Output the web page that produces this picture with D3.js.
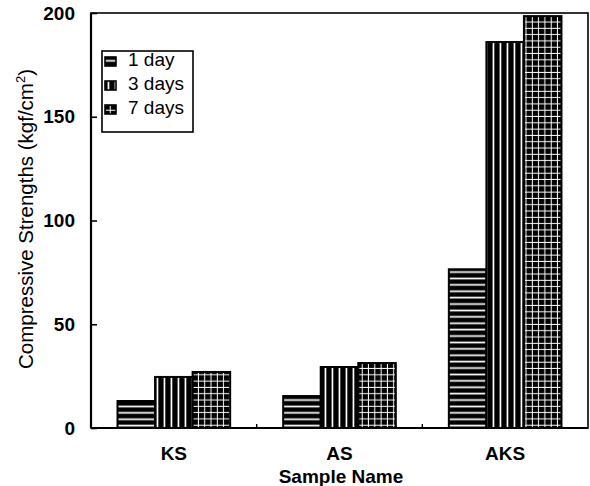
<!DOCTYPE html>
<html lang="en">
<head>
  <meta charset="UTF-8">
  <title>Compressive Strengths by Sample</title>
  <script src="https://d3js.org/d3.v7.min.js"></script>
  <style>
    body { margin: 0; background: #fff; }
    svg { display: block; font-family: "Liberation Sans", Arial, sans-serif; }
  </style>
</head>
<body>
  <script>
    // Data
    const samples = ["KS", "AS", "AKS"];
    const seriesNames = ["1 day", "3 days", "7 days"];
    const oneDay = [13, 15.4, 76.5];
    const threeDays = [24.6, 29.4, 186];
    const sevenDays = [27, 31.3, 198.5];
    const yTicks = [0, 50, 100, 150, 200];

    const seriesValues = [oneDay, threeDays, sevenDays];
    const patternIds = ["hstripe", "vstripe", "grid"];

    const W = 590, H = 486;
    const plotLeft = 91, plotRight = 588, plotTop = 13, plotBottom = 428;

    const svg = d3.select("body").append("svg")
      .attr("width", W).attr("height", H);

    // Fill patterns
    const defs = svg.append("defs");
    const ph = defs.append("pattern").attr("id", "hstripe")
      .attr("patternUnits", "userSpaceOnUse").attr("width", 8).attr("height", 6.4);
    ph.append("rect").attr("width", 8).attr("height", 6.4).attr("fill", "#000");
    ph.append("rect").attr("y", 2.4).attr("width", 8).attr("height", 1.7).attr("fill", "#fff");

    const pv = defs.append("pattern").attr("id", "vstripe")
      .attr("patternUnits", "userSpaceOnUse").attr("width", 7).attr("height", 8);
    pv.append("rect").attr("width", 7).attr("height", 8).attr("fill", "#000");
    pv.append("rect").attr("x", 2.6).attr("width", 1.7).attr("height", 8).attr("fill", "#fff");

    const pg = defs.append("pattern").attr("id", "grid")
      .attr("patternUnits", "userSpaceOnUse").attr("width", 6.3).attr("height", 6.3);
    pg.append("rect").attr("width", 6.3).attr("height", 6.3).attr("fill", "#000");
    pg.append("rect").attr("x", 2.6).attr("width", 1).attr("height", 6.3).attr("fill", "#fff");
    pg.append("rect").attr("y", 2.6).attr("width", 6.3).attr("height", 1).attr("fill", "#fff");

    // Scales
    const x0 = d3.scaleBand().domain(samples).range([plotLeft, plotRight])
      .paddingInner(0.32).paddingOuter(0.16);
    const x1 = d3.scaleBand().domain(seriesNames).range([0, x0.bandwidth()]);
    const y = d3.scaleLinear().domain([0, 200]).range([plotBottom, plotTop]);

    // Bars
    seriesNames.forEach((s, si) => {
      svg.append("g").selectAll("rect")
        .data(samples)
        .join("rect")
        .attr("x", d => x0(d) + x1(s))
        .attr("y", (d, i) => y(seriesValues[si][i]))
        .attr("width", x1.bandwidth())
        .attr("height", (d, i) => y(0) - y(seriesValues[si][i]))
        .attr("fill", `url(#${patternIds[si]})`)
        .attr("stroke", "#000")
        .attr("stroke-width", 2);
    });

    // Frame
    svg.append("rect")
      .attr("x", plotLeft).attr("y", plotTop)
      .attr("width", plotRight - plotLeft).attr("height", plotBottom - plotTop)
      .attr("fill", "none").attr("stroke", "#000").attr("stroke-width", 1.6);
    svg.append("line").attr("x1", plotLeft).attr("x2", plotLeft).attr("y1", plotTop).attr("y2", plotBottom)
      .attr("stroke", "#000").attr("stroke-width", 2.2);
    svg.append("line").attr("x1", plotLeft).attr("x2", plotRight).attr("y1", plotBottom).attr("y2", plotBottom)
      .attr("stroke", "#000").attr("stroke-width", 2.2);

    // Y axis ticks (inward) and labels
    const yAxis = svg.append("g").attr("transform", `translate(${plotLeft},0)`)
      .call(d3.axisRight(y).tickValues(yTicks).tickSize(6).tickFormat(""));
    yAxis.select(".domain").remove();
    yAxis.selectAll("line").attr("stroke-width", 1.6);

    svg.append("g").selectAll("text")
      .data(yTicks)
      .join("text")
      .attr("x", plotLeft - 16)
      .attr("y", d => y(d))
      .attr("dy", "0.35em")
      .attr("text-anchor", "end")
      .attr("font-size", 19)
      .attr("font-weight", "bold")
      .text(d => d);

    // small tick marks between sample groups
    svg.append("g").selectAll("line")
      .data(samples.slice(1))
      .join("line")
      .attr("x1", d => x0(d) - x0.step() * x0.paddingInner() / 2)
      .attr("x2", d => x0(d) - x0.step() * x0.paddingInner() / 2)
      .attr("y1", plotBottom).attr("y2", plotBottom - 4)
      .attr("stroke", "#000").attr("stroke-width", 1.4);

    // X category labels
    svg.append("g").selectAll("text")
      .data(samples)
      .join("text")
      .attr("x", d => x0(d) + x0.bandwidth() / 2)
      .attr("y", 460)
      .attr("text-anchor", "middle")
      .attr("font-size", 19)
      .attr("font-weight", "bold")
      .text(d => d);

    // Axis titles
    svg.append("text")
      .attr("x", 341).attr("y", 482.5)
      .attr("text-anchor", "middle")
      .attr("font-size", 19)
      .attr("font-weight", "bold")
      .text("Sample Name");

    const yTitle = svg.append("text")
      .attr("transform", "translate(33,219) rotate(-90)")
      .attr("text-anchor", "middle")
      .attr("font-size", 20.5);
    yTitle.append("tspan").text("Compressive Strengths (kgf/cm");
    yTitle.append("tspan").attr("font-size", 13).attr("dy", "-0.6em").text("2");
    yTitle.append("tspan").attr("dy", "0.4em").text(")");

    // Legend
    const legend = svg.append("g");
    legend.append("rect")
      .attr("x", 102).attr("y", 51).attr("width", 91).attr("height", 81)
      .attr("fill", "#fff").attr("stroke", "#000").attr("stroke-width", 1.6);
    seriesNames.forEach((s, i) => {
      const yy = 57 + i * 24;
      legend.append("rect")
        .attr("x", 105).attr("y", yy).attr("width", 11).attr("height", 9)
        .attr("fill", `url(#${patternIds[i]})`)
        .attr("stroke", "#000").attr("stroke-width", 1.6);
      legend.append("text")
        .attr("x", 128).attr("y", yy + 9)
        .attr("font-size", 19)
        .text(s);
    });
  </script>
</body>
</html>
